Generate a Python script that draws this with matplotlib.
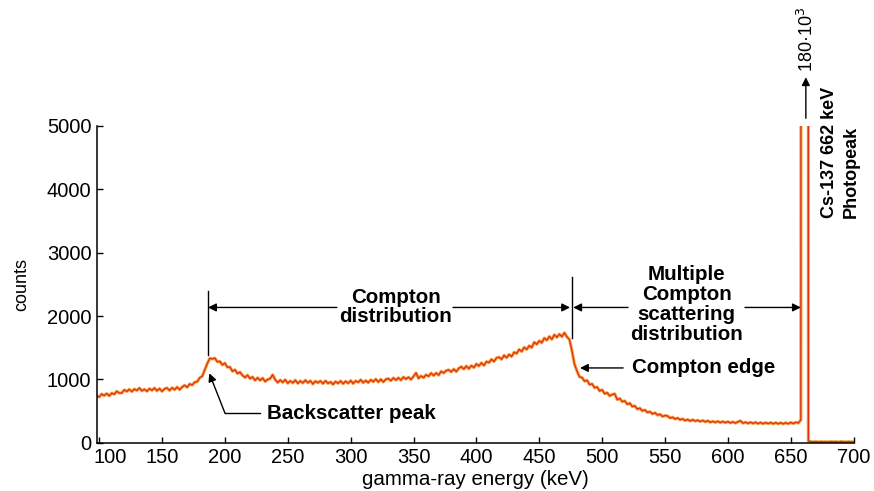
import numpy as np
import matplotlib
matplotlib.use('Agg')
import matplotlib.pyplot as plt
import matplotlib.transforms as mtransforms

plt.rcParams['font.family'] = ['Liberation Sans', 'DejaVu Sans']

# Cs-137 spectrum, 2 keV channels from 98 to 700 keV
energy = np.arange(98, 701, 2)
counts = np.array([
    745, 720, 768, 744, 776, 739, 782, 764, 812, 784,          # 98-116
    784, 834, 810, 842, 806, 846, 824, 863, 819, 843,          # 118-136
    811, 853, 826, 863, 818, 854, 810, 850, 864, 824,          # 138-156
    868, 836, 878, 837, 878, 906, 874, 927, 910, 956,          # 158-176
    963, 1025, 1050, 1148, 1250, 1332, 1322, 1335, 1277, 1284,  # 178-196
    1228, 1256, 1191, 1195, 1127, 1151, 1092, 1114, 1062, 1029,  # 198-216
    1066, 1012, 1038, 984, 1025, 984, 1020, 966, 997, 1012,    # 218-236
    1073, 995, 949, 989, 953, 994, 938, 975, 944, 987,         # 238-256
    936, 975, 942, 987, 946, 977, 926, 971, 946, 975,          # 258-276
    932, 977, 936, 959, 920, 965, 936, 974, 930, 970,          # 278-296
    938, 980, 934, 976, 953, 993, 947, 981, 947, 993,          # 298-316
    962, 1004, 958, 1001, 958, 1001, 1012, 979, 1022, 988,     # 318-336
    1024, 988, 1036, 1004, 1034, 998, 1046, 1102, 1015, 1054,  # 338-356
    1026, 1072, 1048, 1098, 1060, 1100, 1067, 1126, 1100, 1138,  # 358-376
    1150, 1118, 1162, 1122, 1174, 1200, 1162, 1210, 1168, 1216,  # 378-396
    1186, 1243, 1211, 1260, 1220, 1280, 1265, 1316, 1282, 1338,  # 398-416
    1351, 1316, 1378, 1342, 1392, 1360, 1428, 1408, 1472, 1440,  # 418-436
    1506, 1472, 1530, 1502, 1586, 1554, 1608, 1578, 1650, 1618,  # 438-456
    1676, 1632, 1704, 1664, 1714, 1674, 1736, 1670, 1630, 1450,  # 458-476
    1240, 1132, 1040, 1028, 971, 985, 918, 928, 867, 880,      # 478-496
    816, 835, 773, 789, 739, 760, 772, 680, 698, 648,          # 498-516
    660, 606, 624, 571, 581, 530, 544, 503, 516, 478,          # 518-536
    489, 454, 472, 436, 449, 414, 428, 422, 388, 402,          # 538-556
    374, 389, 363, 376, 349, 365, 343, 362, 341, 354,          # 558-576
    334, 351, 330, 346, 322, 337, 320, 337, 318, 334,          # 578-596
    316, 332, 312, 328, 309, 330, 345, 308, 324, 304,          # 598-616
    322, 304, 321, 301, 318, 299, 317, 301, 317, 298,          # 618-636
    316, 298, 315, 296, 315, 298, 319, 302, 322, 310,          # 638-656
    360, 120000, 180000, 25, 17, 12, 18, 11, 16, 13,           # 658-676
    15, 12, 17, 13, 16, 11, 18, 14, 12, 16,                    # 678-696
    13, 15,                                                    # 698-700
])

x_ticks = list(range(100, 701, 50))
y_ticks = list(range(0, 5001, 1000))

backscatter_e = 186.6
edge_e = 476.0
photopeak_e = 662.0
peak_counts = counts.max()

fig = plt.figure(figsize=(8.74, 4.91), dpi=100)
ax = fig.add_axes([0.111, 0.0984, 0.8657, 0.645])

# orange halo under a thin red trace
ax.plot(energy, counts, color='#f6a94c', lw=2.3, solid_joinstyle='round')
ax.plot(energy, counts, color='#e2350f', lw=1.0)

ax.set_xlim(98.3, 700)
ax.set_ylim(0, 5000)
ax.set_xticks(x_ticks)
ax.set_yticks(y_ticks)
ax.tick_params(direction='in', length=4, width=1, labelsize=14.5, pad=4)
for s in ('top', 'right'):
    ax.spines[s].set_visible(False)
for s in ('left', 'bottom'):
    ax.spines[s].set_linewidth(1.1)
ax.set_xlabel('gamma-ray energy (keV)', fontsize=14.8, labelpad=2)
ax.set_ylabel('counts', fontsize=13, labelpad=12)

# nudge the first energy label clear of the "0"
fig.canvas.draw()
first = ax.get_xticklabels()[0]
first.set_transform(first.get_transform() +
                    mtransforms.ScaledTranslation(11 / 100, 0, fig.dpi_scale_trans))

bold = dict(fontsize=14.8, fontweight='bold', color='black')
arrow = dict(arrowstyle='-|>', color='black', lw=1.0,
             mutation_scale=12, shrinkA=0, shrinkB=0)

# marker lines at the backscatter peak and the Compton edge
ax.plot([backscatter_e, backscatter_e], [1390, 2400], color='black', lw=1.0)
ax.plot([edge_e, edge_e], [1660, 2620], color='black', lw=1.0)

# Compton distribution span
yarr = 2135
ax.annotate('', xy=(backscatter_e, yarr), xytext=(289, yarr), arrowprops=arrow)
ax.annotate('', xy=(edge_e - 1.5, yarr), xytext=(381.4, yarr), arrowprops=arrow)
ax.text(336, yarr, 'Compton\ndistribution', ha='center', va='center',
        linespacing=1.0, **bold)

# multiple Compton scattering span
ax.annotate('', xy=(edge_e + 1.0, yarr), xytext=(520.6, yarr), arrowprops=arrow)
ax.annotate('', xy=(658, yarr), xytext=(613.6, yarr), arrowprops=arrow)
ax.text(567.3, 2180, 'Multiple\nCompton\nscattering\ndistribution',
        ha='center', va='center', linespacing=1.05, **bold)

# Compton edge
ax.annotate('', xy=(482.4, 1180), xytext=(516.7, 1180), arrowprops=arrow)
ax.text(523.6, 1180, 'Compton edge', ha='left', va='center', **bold)

# backscatter peak
ax.plot([200.1, 228], [464, 464], color='black', lw=1.0)
ax.annotate('', xy=(187.6, 1096), xytext=(200.1, 464), arrowprops=arrow)
ax.text(233.5, 464, 'Backscatter peak', ha='left', va='center', **bold)

# photopeak label and off-scale arrow
ax.text(689.5, 3548, 'Cs-137 662 keV\nPhotopeak', rotation=90,
        ha='center', va='bottom', multialignment='left', linespacing=1.4,
        fontsize=13, fontweight='bold', clip_on=False)
ax.annotate('', xy=(photopeak_e, 5770), xytext=(photopeak_e, 5122),
            arrowprops=arrow, annotation_clip=False)
ax.text(photopeak_e + 0.5, 5858, f'{peak_counts // 1000}·10$^3$', rotation=90,
        ha='center', va='bottom', fontsize=13, clip_on=False)

fig.savefig('out.png', dpi=100)
